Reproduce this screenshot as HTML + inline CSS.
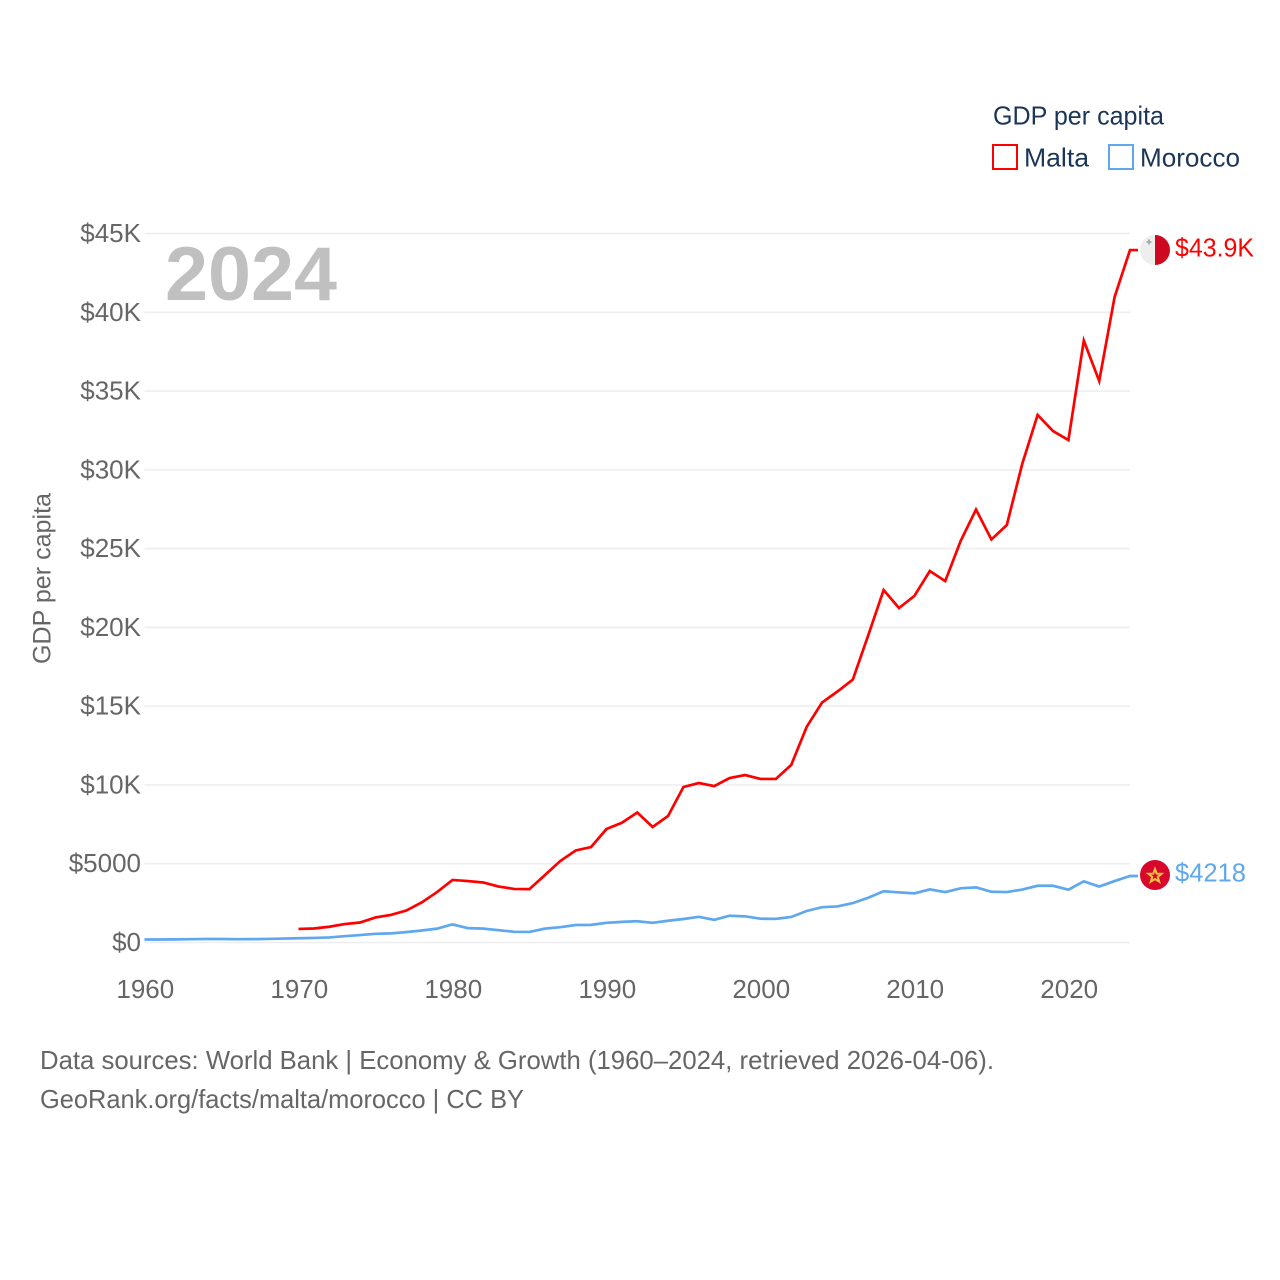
<!DOCTYPE html>
<html lang="en">
<head>
<meta charset="utf-8">
<title>GDP per capita: Malta and Morocco</title>
<style>
html,body{margin:0;padding:0;background:#fff;}
svg{display:block;font-family:"Liberation Sans",Arial,sans-serif;}
</style>
</head>
<body>
<svg id="chart" xmlns="http://www.w3.org/2000/svg" width="1280" height="1280" viewBox="0 0 1280 1280">
  <rect width="1280" height="1280" fill="#fff"/>
  <g id="grid"></g>
  <g id="yticks"></g>
  <g id="xticks"></g>
  <text x="165" y="300" font-size="76" font-weight="700" fill="#c0c0c0" textLength="172" lengthAdjust="spacingAndGlyphs">2024</text>
  <text transform="translate(50.5,664) rotate(-90)" font-size="25" fill="#666" textLength="171" lengthAdjust="spacingAndGlyphs">GDP per capita</text>
  <g id="series"></g>

  <g>
    <circle cx="1155" cy="250" r="15" fill="#eeeeee"/>
    <path d="M1155 235 A15 15 0 0 1 1155 265 Z" fill="#cf0821"/>
    <path d="M1149 239.5v5M1146.5 242h5" stroke="#a8a8a8" stroke-width="1.8" fill="none"/>
  </g>
  <g>
    <circle cx="1155" cy="875" r="15" fill="#d8082c"/>
    <polygon points="1155,869 1156.7,873.6 1161.7,873.8 1157.8,876.9 1159.2,881.7 1155,879 1150.8,881.7 1152.2,876.9 1148.3,873.8 1153.3,873.6" fill="none" stroke="#f5c13c" stroke-width="2"/>
  </g>
  <text id="malta-label" x="1175" y="256.5" font-size="26" fill="#ff0000" textLength="79" lengthAdjust="spacingAndGlyphs"></text>
  <text id="morocco-label" x="1175" y="881.5" font-size="26" fill="#5fa8ee" textLength="71" lengthAdjust="spacingAndGlyphs"></text>

  <g>
    <text x="993" y="124.5" font-size="26" fill="#1a3557" textLength="171" lengthAdjust="spacingAndGlyphs">GDP per capita</text>
    <g>
      <rect x="993" y="145" width="24" height="24" fill="none" stroke="#ff0000" stroke-width="2"/>
      <text x="1024" y="166.5" font-size="26" fill="#1a3557" textLength="65" lengthAdjust="spacingAndGlyphs">Malta</text>
    </g>
    <g>
      <rect x="1109" y="145" width="24" height="24" fill="none" stroke="#5fa8ee" stroke-width="2"/>
      <text x="1140" y="166.5" font-size="26" fill="#1a3557" textLength="100" lengthAdjust="spacingAndGlyphs">Morocco</text>
    </g>
  </g>

  <text x="40" y="1069" font-size="26" fill="#666" textLength="954" lengthAdjust="spacingAndGlyphs">Data sources: World Bank | Economy &amp; Growth (1960–2024, retrieved 2026-04-06).</text>
  <text x="40" y="1108" font-size="26" fill="#666" textLength="484" lengthAdjust="spacingAndGlyphs">GeoRank.org/facts/malta/morocco | CC BY</text>
</svg>
<script>
const years = [1960,1961,1962,1963,1964,1965,1966,1967,1968,1969,1970,1971,1972,1973,1974,1975,1976,1977,1978,1979,1980,1981,1982,1983,1984,1985,1986,1987,1988,1989,1990,1991,1992,1993,1994,1995,1996,1997,1998,1999,2000,2001,2002,2003,2004,2005,2006,2007,2008,2009,2010,2011,2012,2013,2014,2015,2016,2017,2018,2019,2020,2021,2022,2023,2024];
const maltaValues = [null,null,null,null,null,null,null,null,null,null,0.86,0.89,1.0,1.17,1.27,1.59,1.75,2.03,2.54,3.2,3.97,3.9,3.81,3.55,3.4,3.39,4.28,5.17,5.84,6.06,7.2,7.6,8.25,7.33,8.03,9.87,10.12,9.93,10.44,10.63,10.38,10.38,11.27,13.68,15.23,15.93,16.69,19.5,22.37,21.23,22.0,23.58,22.94,25.48,27.48,25.58,26.5,30.37,33.48,32.46,31.89,38.2,35.64,40.97,43.95];
const moroccoValues = [0.19,0.19,0.2,0.21,0.22,0.22,0.21,0.215,0.225,0.25,0.27,0.29,0.32,0.4,0.47,0.55,0.58,0.66,0.76,0.88,1.15,0.91,0.88,0.78,0.68,0.67,0.88,0.97,1.11,1.12,1.25,1.31,1.35,1.25,1.38,1.49,1.63,1.44,1.7,1.66,1.51,1.5,1.62,2.0,2.24,2.29,2.5,2.84,3.25,3.18,3.12,3.37,3.2,3.44,3.5,3.22,3.2,3.36,3.6,3.6,3.35,3.88,3.55,3.9,4.22];
const yTickValues = [0,5,10,15,20,25,30,35,40,45];
const yTickLabels = ["$0","$5000","$10K","$15K","$20K","$25K","$30K","$35K","$40K","$45K"];
const xTickValues = [1960,1970,1980,1990,2000,2010,2020];
const maltaEndLabel = "$43.9K";
const moroccoEndLabel = "$4218";

const NS = "http://www.w3.org/2000/svg";
const plotLeft = 144.5, plotRight = 1130, plotBottom = 942.5, plotTop = 233.5;
const stubEnd = 1138;
function xScale(year) { return plotLeft + (year - 1960) * (plotRight - plotLeft) / 64; }
function yScale(value) { return plotBottom - value * (plotBottom - plotTop) / 45; }

const gridGroup = document.getElementById("grid");
const yGroup = document.getElementById("yticks");
const xGroup = document.getElementById("xticks");
const seriesGroup = document.getElementById("series");

yTickValues.forEach(function (value, i) {
  const line = document.createElementNS(NS, "line");
  
  
  line.setAttribute("x1", plotLeft);
  line.setAttribute("x2", plotRight);
  line.setAttribute("y1", yScale(value));
  line.setAttribute("y2", yScale(value));
  line.setAttribute("stroke", "#eeeeee");
  line.setAttribute("stroke-width", "1.6");
  gridGroup.appendChild(line);

  const label = document.createElementNS(NS, "text");
  
  
  label.setAttribute("x", 141);
  label.setAttribute("y", yScale(value) + 8.5);
  label.setAttribute("text-anchor", "end");
  label.setAttribute("font-size", "26");
  label.setAttribute("fill", "#666");
  label.textContent = yTickLabels[i];
  yGroup.appendChild(label);
});

xTickValues.forEach(function (year) {
  const label = document.createElementNS(NS, "text");
  
  
  label.setAttribute("x", xScale(year) + 0.8);
  label.setAttribute("y", 998);
  label.setAttribute("text-anchor", "middle");
  label.setAttribute("font-size", "26");
  label.setAttribute("fill", "#666");
  label.textContent = String(year);
  xGroup.appendChild(label);
});

function linePath(values) {
  const parts = [];
  let last = null;
  values.forEach(function (value, i) {
    if (value === null) return;
    parts.push((parts.length ? "L" : "M") + xScale(years[i]).toFixed(2) + " " + yScale(value).toFixed(2));
    last = value;
  });
  parts.push("L" + stubEnd + " " + yScale(last).toFixed(2));
  return parts.join(" ");
}

const maltaLine = document.createElementNS(NS, "path");


maltaLine.setAttribute("d", linePath(maltaValues));
maltaLine.setAttribute("fill", "none");
maltaLine.setAttribute("stroke", "#ff0000");
maltaLine.setAttribute("stroke-width", "2.7");
maltaLine.setAttribute("stroke-linejoin", "miter");
seriesGroup.appendChild(maltaLine);

const moroccoLine = document.createElementNS(NS, "path");


moroccoLine.setAttribute("d", linePath(moroccoValues));
moroccoLine.setAttribute("fill", "none");
moroccoLine.setAttribute("stroke", "#5fa8ee");
moroccoLine.setAttribute("stroke-width", "2.7");
seriesGroup.appendChild(moroccoLine);

document.getElementById("malta-label").textContent = maltaEndLabel;
document.getElementById("morocco-label").textContent = moroccoEndLabel;
</script>
</body>
</html>
